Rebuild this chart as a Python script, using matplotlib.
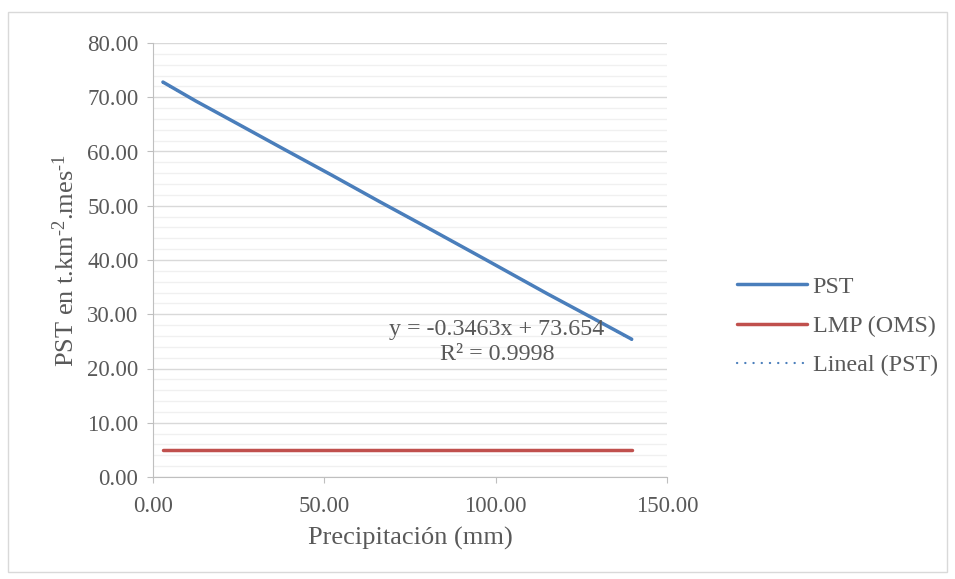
import matplotlib.pyplot as plt
from matplotlib.ticker import MultipleLocator
import numpy as np

# values
precip = [2.9, 12.5, 25.0, 38.0, 52.0, 66.0, 80.0, 97.0, 115.0, 128.0, 139.7]
pst = [72.8, 69.3, 65.0, 60.5, 55.7, 50.8, 46.0, 40.1, 33.8, 29.4, 25.4]
lmp = [5.0] * len(precip)
slope, intercept = -0.3463, 73.654
eq_text = 'y = -0.3463x + 73.654\nR² = 0.9998'

plt.rcParams['font.family'] = ['Liberation Serif', 'DejaVu Serif']
plt.rcParams['mathtext.fontset'] = 'custom'
plt.rcParams['mathtext.rm'] = 'Liberation Serif'
plt.rcParams['mathtext.it'] = 'Liberation Serif:italic'
gray = '#595959'
fs = 16.5
fs_title = 19
fs_small = 17.3

fig = plt.figure(figsize=(9.55, 5.79), dpi=100)
ax = fig.add_axes([153/955, 1 - 477/579, 514/955, 434/579])

ax.plot(precip, pst, color='#4a7ebb', lw=2.5, label='PST', solid_capstyle='round', zorder=3)
ax.plot(precip, lmp, color='#c0504d', lw=2.5, label='LMP (OMS)', solid_capstyle='round', zorder=3)
xfit = np.array([precip[0], precip[-1]])
ax.plot(xfit, slope * xfit + intercept, color='#4a7ebb', lw=1.6, ls=(0, (0.1, 3.6)),
        dash_capstyle='round', label='Lineal (PST)', zorder=4)

ax.set_xlim(0, 150)
ax.set_ylim(0, 80)
ax.xaxis.set_major_locator(MultipleLocator(50))
ax.yaxis.set_major_locator(MultipleLocator(10))
ax.yaxis.set_minor_locator(MultipleLocator(2))
ax.xaxis.set_major_formatter(lambda v, p: f'{v:.2f}')
ax.yaxis.set_major_formatter(lambda v, p: f'{v:.2f}')
ax.grid(axis='y', which='major', color='#d9d9d9', lw=1)
ax.grid(axis='y', which='minor', color='#f0f0f0', lw=1)
ax.set_axisbelow(True)
ax.tick_params(which='minor', length=0)
ax.tick_params(which='major', length=4.5, color='#bfbfbf', labelsize=fs, labelcolor=gray)
ax.tick_params(axis='x', pad=9)
ax.tick_params(axis='y', pad=6)
for s in ['top', 'right']:
    ax.spines[s].set_visible(False)
for s in ['left', 'bottom']:
    ax.spines[s].set_color('#bfbfbf')

ax.set_xlabel('Precipitación (mm)', fontsize=fs_title, color=gray, labelpad=7)
ax.set_ylabel(r'PST en t.km$^{\text{-}2}$.mes$^{\text{-}1}$', fontsize=fs_title, color=gray,
              labelpad=6)

ax.text(100.4, 24.9, eq_text, ha='center', va='center', fontsize=fs_small, color=gray,
        linespacing=1.25)

fig.legend(loc='center left', bbox_to_anchor=(737/955, 1 - 326/579), frameon=False,
           fontsize=fs_small, labelcolor=gray, handlelength=2.9, handletextpad=0.25,
           labelspacing=0.72, borderpad=0, borderaxespad=0)

fig.patches.append(plt.Rectangle((8/955, 7/579), 939/955, 560/579, transform=fig.transFigure,
                                 fill=False, edgecolor='#d9d9d9', lw=1))

fig.savefig('out.png', dpi=100)
